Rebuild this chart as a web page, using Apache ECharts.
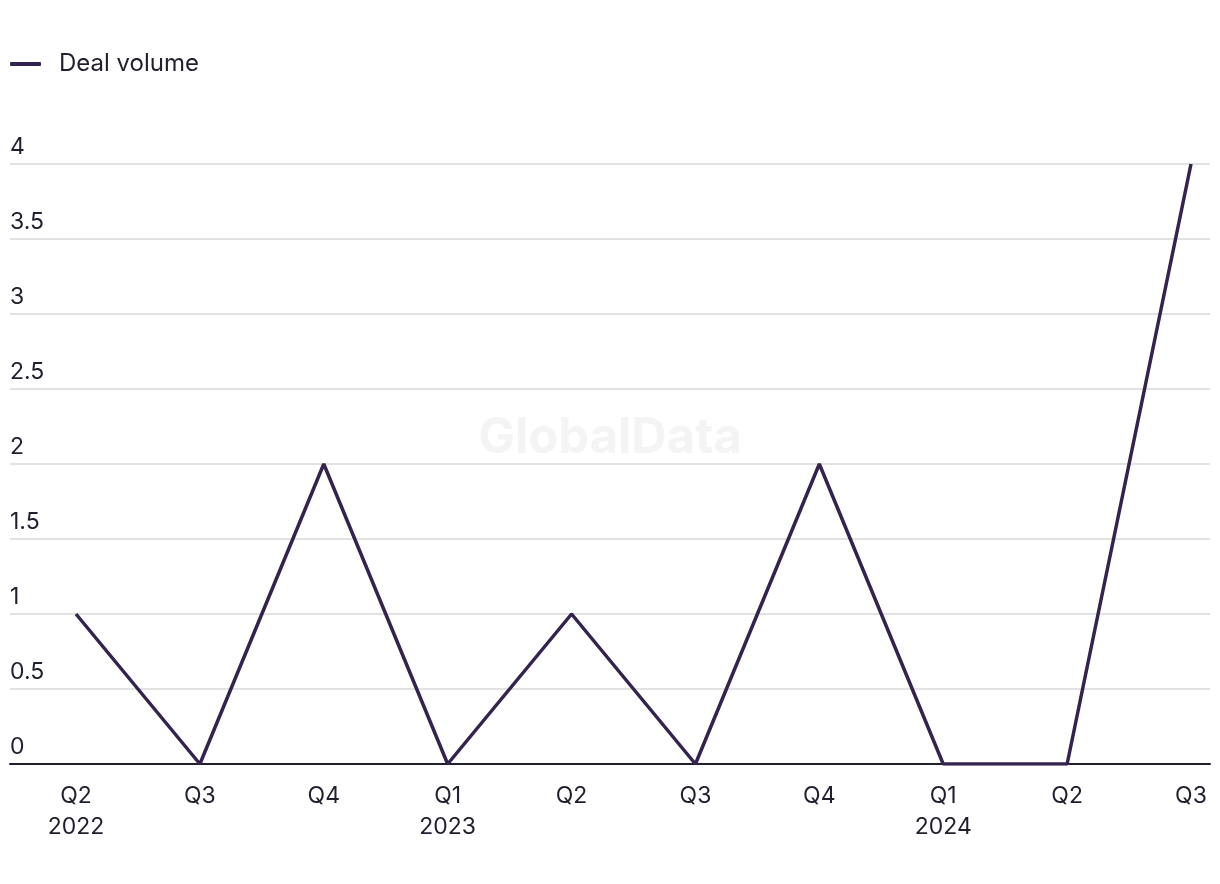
<!DOCTYPE html>
<html>
<head>
<meta charset="utf-8">
<script src="https://cdn.jsdelivr.net/npm/echarts@6/dist/echarts.min.js"></script>
<style>
  html, body { margin: 0; padding: 0; background: #fff; }
  #chart { width: 1220px; height: 884px; }
</style>
</head>
<body>
<div id="chart"></div>
<script>
// quarters on the x axis
const quarters = ['Q2\n2022', 'Q3', 'Q4', 'Q1\n2023', 'Q2', 'Q3', 'Q4', 'Q1\n2024', 'Q2', 'Q3'];
// deal volume per quarter
const dealVolume = [1, 0, 2, 0, 1, 0, 2, 0, 0, 4];
const yMin = 0, yMax = 4, yStep = 0.5;

const lineColor = '#35234f';
const textColor = '#1f1f2e';
const font = 'Inter, "Liberation Sans", sans-serif';

const chart = echarts.init(document.getElementById('chart'));
chart.setOption({
  animation: false,
  textStyle: { fontFamily: font },
  legend: {
    left: 10,
    top: 52,
    padding: 0,
    icon: 'roundRect',
    itemWidth: 31,
    itemHeight: 4,
    textStyle: { fontSize: 24, color: textColor, padding: [0, 0, 0, 13] },
    data: ['Deal volume']
  },
  graphic: [{
    type: 'text',
    left: 'center',
    top: 414,
    style: { text: 'GlobalData', fontSize: 49, fontWeight: 'bold', fill: '#f4f4f4', fontFamily: font }
  }],
  grid: [
    // wide grid: gridlines, y labels and the base axis line
    { left: 10, right: 10, top: 164, bottom: 120 },
    // plotting grid: category positions
    { left: 76, right: 29, top: 164, bottom: 120 }
  ],
  xAxis: [
    {
      gridIndex: 0, type: 'value', min: 0, max: 1,
      axisLine: { show: true, lineStyle: { color: '#1f1f2e', width: 2 } },
      axisTick: { show: false }, axisLabel: { show: false }, splitLine: { show: false }
    },
    {
      gridIndex: 1, type: 'category', boundaryGap: false, data: quarters,
      axisLine: { show: false }, axisTick: { show: false },
      axisLabel: { color: textColor, fontSize: 23, lineHeight: 31, margin: 17, interval: 0 }
    }
  ],
  yAxis: [
    {
      gridIndex: 0, type: 'value', min: yMin, max: yMax, interval: yStep,
      axisLine: { show: false }, axisTick: { show: false },
      axisLabel: { inside: true, color: textColor, fontSize: 23, verticalAlign: 'bottom', margin: 0, padding: [0, 0, 5, 0] },
      splitLine: { lineStyle: { color: '#d9d9d9', width: 1.5 } }
    },
    {
      gridIndex: 1, type: 'value', min: yMin, max: yMax, interval: yStep, show: false
    }
  ],
  series: [{
    name: 'Deal volume',
    type: 'line',
    xAxisIndex: 1,
    yAxisIndex: 1,
    data: dealVolume,
    symbol: 'none',
    itemStyle: { color: lineColor },
    lineStyle: { color: lineColor, width: 3.5 }
  }]
});
</script>
</body>
</html>
